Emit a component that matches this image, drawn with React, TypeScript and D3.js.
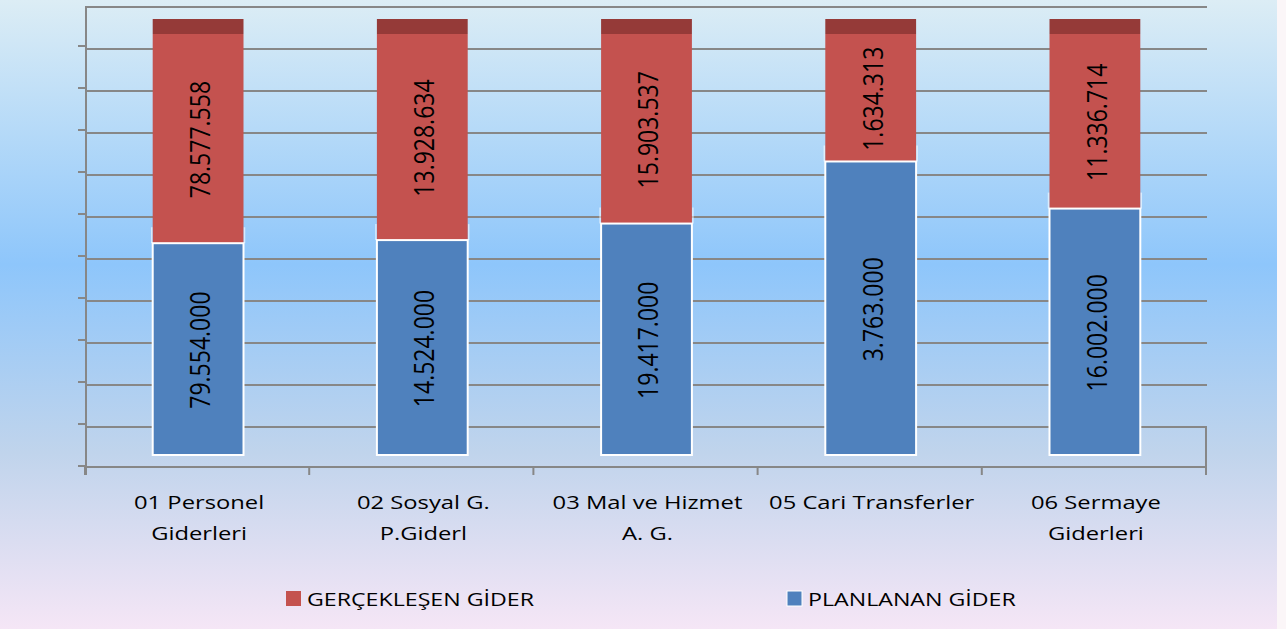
import React from 'react';
import * as d3 from 'd3';

const categories = [
  ['01 Personel', 'Giderleri'],
  ['02 Sosyal G.', 'P.Giderl'],
  ['03 Mal ve Hizmet', 'A. G.'],
  ['05 Cari Transferler'],
  ['06 Sermaye', 'Giderleri'],
];
const planned = [79554000, 14524000, 19417000, 3763000, 16002000];
const actual = [78577558, 13928634, 15903537, 1634313, 11336714];
const seriesNames = ['GERÇEKLEŞEN GİDER', 'PLANLANAN GİDER'];

const fmt = (v: number) => d3.format(',')(v).replace(/,/g, '.');

const W = 1286;
const H = 629;
const FONT = "'Open Sans', 'Noto Sans', sans-serif";
// the source picture is stretched sideways, so text is too
const SX = 1.25;

export default function App() {
  const x = d3.scaleBand<number>()
    .domain(d3.range(categories.length))
    .range([86, 1207])
    .padding(0);
  const barW = x.bandwidth() * 0.405;

  // front face of the bars (percent stacked)
  const y = d3.scaleLinear().domain([0, 1]).range([455, 34]);
  // back wall grid
  const yWall = d3.scaleLinear().domain([0, 1]).range([427, 7]);
  // axis ticks on the front edge
  const yTick = d3.scaleLinear().domain([0, 1]).range([466, 46]);
  const ticks = d3.range(0, 1.0001, 0.1);

  const stack = d3.stack<number>()
    .keys(['planned', 'actual'])
    .value((i, key) => (key === 'planned' ? planned[i] : actual[i]))
    .offset(d3.stackOffsetExpand);
  const series = stack(d3.range(categories.length));

  const grid = '#878787';

  const vLabel = (cx: number, cy: number, v: number) => (
    <text
      transform={`translate(${cx},${cy}) scale(${SX - 0.05},1) rotate(-90)`}
      textAnchor="middle"
      dominantBaseline="central"
      fontSize={23}
      fill="#000"
    >
      {fmt(v)}
    </text>
  );

  return (
    <svg width={W} height={H} style={{ position: 'absolute', left: 0, top: 0 }} fontFamily={FONT}>
      <defs>
        <linearGradient id="bg" x1="0" y1="0" x2="0" y2="1">
          <stop offset="0" stopColor="#dcedf5" />
          <stop offset="0.42" stopColor="#8ec6fb" />
          <stop offset="0.72" stopColor="#c0d4ec" />
          <stop offset="1" stopColor="#f5e6f6" />
        </linearGradient>
      </defs>
      <rect x={0} y={0} width={W} height={H} fill="#fbf6f8" />
      <rect x={0} y={0} width={1277} height={H} fill="url(#bg)" />

      {/* back wall gridlines */}
      {ticks.map((t, i) => (
        <line key={'g' + i} x1={86} x2={1207} y1={yWall(t)} y2={yWall(t)} stroke={grid} strokeWidth={2} />
      ))}
      {/* left wall */}
      <line x1={86} x2={86} y1={6} y2={475} stroke={grid} strokeWidth={2} />
      {/* floor front edge */}
      <line x1={86} x2={1207} y1={467} y2={467} stroke={grid} strokeWidth={2} />
      <line x1={1206} x2={1206} y1={427} y2={467} stroke={grid} strokeWidth={2} />
      {/* y ticks */}
      {ticks.map((t, i) => (
        <line key={'t' + i} x1={78} x2={86} y1={yTick(t)} y2={yTick(t)} stroke={grid} strokeWidth={2} />
      ))}
      {/* x ticks */}
      {d3.range(categories.length + 1).map((i) => {
        const xx = i < categories.length ? x(i)! : 1207;
        return <line key={'xt' + i} x1={xx - 1} x2={xx - 1} y1={467} y2={475} stroke={grid} strokeWidth={2} />;
      })}

      {/* bars */}
      {d3.range(categories.length).map((i) => {
        const cx = x(i)! + x.bandwidth() / 2;
        const x0 = cx - barW / 2;
        const p = series[0][i];
        const a = series[1][i];
        const pTop = y(p[1]);
        return (
          <g key={'b' + i}>
            {/* top face */}
            <rect x={x0} y={19} width={barW} height={y(1) - 19} fill="#953a38" />
            <rect x={x0} y={y(a[1])} width={barW} height={y(a[0]) - y(a[1])} fill="#c4524f" />
            <line x1={x0 - 1} x2={x0 - 1} y1={pTop - 16} y2={pTop} stroke="#fff" strokeOpacity={0.6} strokeWidth={1.5} />
            <line x1={x0 + barW + 1} x2={x0 + barW + 1} y1={pTop - 16} y2={pTop} stroke="#fff" strokeOpacity={0.6} strokeWidth={1.5} />
            <rect x={x0} y={pTop} width={barW} height={y(p[0]) - pTop} fill="#4f81bd" stroke="#fff" strokeWidth={2} />
            {vLabel(cx + 1, (y(a[0]) + y(a[1])) / 2 + 1, actual[i])}
            {vLabel(cx + 1, (y(p[0]) + y(p[1])) / 2 + 1, planned[i])}
            {categories[i].map((line, j) => (
              <text
                key={j}
                transform={`translate(${cx + 1},${509 + j * 31}) scale(${SX},1)`}
                textAnchor="middle"
                fontSize={19}
                fill="#000"
              >
                {line}
              </text>
            ))}
          </g>
        );
      })}

      {/* legend */}
      <rect x={286} y={591} width={15} height={15} fill="#c4524f" />
      <text transform={`translate(307,606) scale(${SX - 0.03},1)`} fontSize={19} fill="#000">{seriesNames[0]}</text>
      <rect x={787} y={591} width={15} height={15} fill="#4f81bd" stroke="#fff" strokeWidth={1} />
      <text transform={`translate(808,606) scale(${SX - 0.03},1)`} fontSize={19} fill="#000">{seriesNames[1]}</text>
    </svg>
  );
}
